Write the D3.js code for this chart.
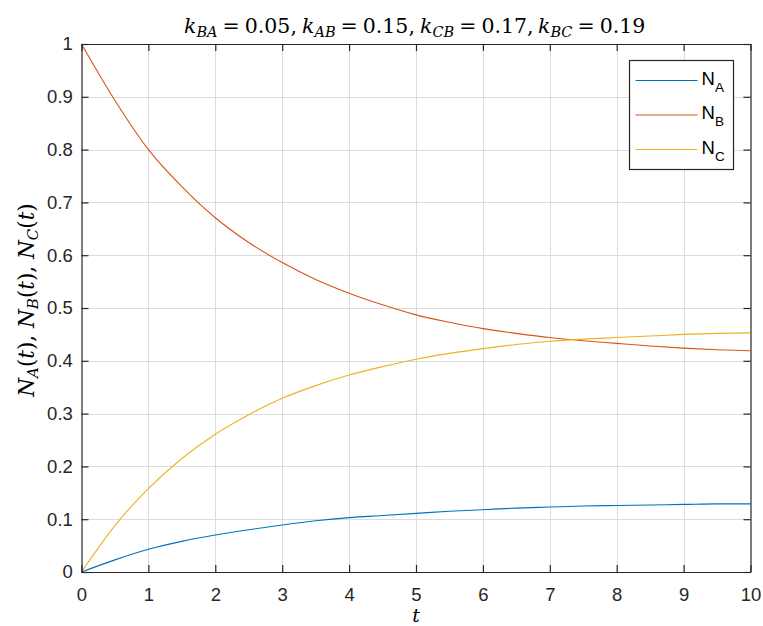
<!DOCTYPE html>
<html>
<head>
<meta charset="utf-8">
<script src="https://cdn.jsdelivr.net/npm/d3@7"></script>
<style>
  body { margin: 0; background: #fff; }
  svg { display: block; }
</style>
</head>
<body>
<svg id="chart"></svg>
<script>
// values
const times = [0, 0.5, 1, 1.5, 2, 2.5, 3, 3.5, 4, 4.5, 5, 5.5, 6, 6.5, 7, 7.5, 8, 8.5, 9, 9.5, 10];
const nA = [0, 0.023, 0.043, 0.058, 0.070, 0.080, 0.089, 0.097, 0.103, 0.107, 0.111, 0.115, 0.118, 0.121, 0.123, 0.125, 0.126, 0.127, 0.128, 0.129, 0.129];
const nB = [1, 0.893, 0.800, 0.730, 0.671, 0.624, 0.586, 0.554, 0.528, 0.506, 0.487, 0.473, 0.461, 0.452, 0.444, 0.438, 0.433, 0.428, 0.424, 0.421, 0.419];
const nC = [0, 0.088, 0.158, 0.215, 0.261, 0.298, 0.329, 0.353, 0.373, 0.389, 0.403, 0.414, 0.423, 0.431, 0.437, 0.441, 0.444, 0.447, 0.450, 0.452, 0.453];
const seriesNames = ["A", "B", "C"];
const xTicks = [0, 1, 2, 3, 4, 5, 6, 7, 8, 9, 10];
const yTicks = [0, 0.1, 0.2, 0.3, 0.4, 0.5, 0.6, 0.7, 0.8, 0.9, 1];
const rates = [["BA", "0.05"], ["AB", "0.15"], ["CB", "0.17"], ["BC", "0.19"]];

const colors = ["#0072BD", "#D95319", "#EDB120"];
const axisColor = "#262626";
const width = 763, height = 626;
const margin = { left: 81.5, right: 12.5, top: 44, bottom: 54 };

const svg = d3.select("#chart").attr("width", width).attr("height", height);

const x = d3.scaleLinear().domain([0, 10]).range([margin.left, width - margin.right]);
const y = d3.scaleLinear().domain([0, 1]).range([height - margin.bottom, margin.top]);

// grid
svg.append("g")
  .selectAll("line")
  .data(xTicks.slice(1, -1))
  .enter()
  .append("line")
  .attr("x1", (d) => Math.round(x(d)) + 0.5)
  .attr("x2", (d) => Math.round(x(d)) + 0.5)
  .attr("y1", y(0))
  .attr("y2", y(1))
  .attr("stroke", "#dcdcdc");
svg.append("g")
  .selectAll("line")
  .data(yTicks.slice(1, -1))
  .enter()
  .append("line")
  .attr("x1", x(0))
  .attr("x2", x(10))
  .attr("y1", (d) => Math.round(y(d)) + 0.5)
  .attr("y2", (d) => Math.round(y(d)) + 0.5)
  .attr("stroke", "#dcdcdc");

// curves
const series = [nA, nB, nC];
const line = d3.line()
  .x((d, i) => x(times[i]))
  .y((d) => y(d))
  .curve(d3.curveMonotoneX);

svg.append("g")
  .selectAll("path")
  .data(series)
  .enter()
  .append("path")
  .attr("d", (d) => line(d))
  .attr("fill", "none")
  .attr("stroke", (d, i) => colors[i])
  .attr("stroke-width", 1.1);

// axes (ticks pointing inward, on all four sides)
const tickFont = "'Liberation Sans', Arial, sans-serif";
const fmt = (d) => (d === 0 || d === 1 ? String(d) : d3.format(".1f")(d));

const axBottom = svg.append("g")
  .attr("transform", `translate(0,${y(0)})`)
  .call(d3.axisBottom(x).tickValues(xTicks).tickSizeInner(-7).tickSizeOuter(0).tickPadding(16).tickFormat(d3.format("d")));
const axLeft = svg.append("g")
  .attr("transform", `translate(${x(0)},0)`)
  .call(d3.axisLeft(y).tickValues(yTicks).tickSizeInner(-7).tickSizeOuter(0).tickPadding(17).tickFormat(fmt));
const axTop = svg.append("g")
  .attr("transform", `translate(0,${y(1)})`)
  .call(d3.axisTop(x).tickValues(xTicks).tickSizeInner(-7).tickSizeOuter(0).tickFormat(""));
const axRight = svg.append("g")
  .attr("transform", `translate(${x(10)},0)`)
  .call(d3.axisRight(y).tickValues(yTicks).tickSizeInner(-7).tickSizeOuter(0).tickFormat(""));

[axBottom, axLeft, axTop, axRight].forEach((g) => {
  g.select(".domain").attr("stroke", axisColor).attr("stroke-width", 1.2);
  g.selectAll(".tick line").attr("stroke", axisColor).attr("stroke-width", 1.2);
  g.selectAll(".tick text")
    .attr("fill", axisColor)
    .style("font-family", tickFont)
    .style("font-size", "18.5px");
});
axLeft.selectAll(".tick text").attr("dx", "0.45em");

// title and labels (LaTeX-like serif)
const serif = "'DejaVu Serif', 'Liberation Serif', serif";
const titleStart = 184, titleStep = 118;
const title = svg.append("g");
rates.forEach((k, i) => {
  const t = title.append("text")
    .attr("x", titleStart + i * titleStep)
    .attr("y", 33)
    .attr("fill", "#000")
    .style("font-family", serif)
    .style("font-size", "20.5px");
  t.append("tspan").style("font-style", "italic").text("k");
  t.append("tspan").attr("dy", 4).style("font-size", "14.5px").style("font-style", "italic").text(k[0]);
  t.append("tspan").attr("dy", -4).attr("dx", 5).text("=");
  t.append("tspan").attr("dx", 5).text(k[1] + (i < rates.length - 1 ? "," : ""));
});

const ylab = svg.append("text")
  .attr("transform", `translate(34,${(y(0) + y(1)) / 2 - 8}) rotate(-90)`)
  .attr("text-anchor", "middle")
  .attr("fill", "#000")
  .style("font-family", serif)
  .style("font-size", "21.5px");
seriesNames.forEach((s, i) => {
  ylab.append("tspan").style("font-style", "italic").text("N");
  ylab.append("tspan").attr("dy", 4).style("font-size", "15px").style("font-style", "italic").text(s);
  ylab.append("tspan").attr("dy", -4).text("(");
  ylab.append("tspan").style("font-style", "italic").text("t");
  ylab.append("tspan").text(")" + (i < seriesNames.length - 1 ? ", " : ""));
});

svg.append("text")
  .attr("x", (x(0) + x(10)) / 2)
  .attr("y", 622)
  .attr("text-anchor", "middle")
  .attr("fill", "#000")
  .style("font-family", serif)
  .style("font-size", "19px")
  .style("font-style", "italic")
  .text("t");

// legend
const legend = svg.append("g").attr("transform", "translate(629.5,60.5)");
legend.append("rect")
  .attr("width", 104)
  .attr("height", 109)
  .attr("fill", "#fff")
  .attr("stroke", axisColor)
  .attr("stroke-width", 1.2);
const items = legend.selectAll("g.item")
  .data(seriesNames)
  .enter()
  .append("g")
  .attr("class", "item")
  .attr("transform", (d, i) => `translate(0,${20 + i * 34.5})`);
items.append("line")
  .attr("x1", 6)
  .attr("x2", 68)
  .attr("stroke", (d, i) => colors[i])
  .attr("stroke-width", 1.1);
const lt = items.append("text")
  .attr("x", 72)
  .attr("y", 4)
  .attr("fill", "#000")
  .style("font-family", tickFont)
  .style("font-size", "18.5px");
lt.append("tspan").text("N");
lt.append("tspan").attr("dy", 7).style("font-size", "13.5px").text((d) => d);
</script>
</body>
</html>
